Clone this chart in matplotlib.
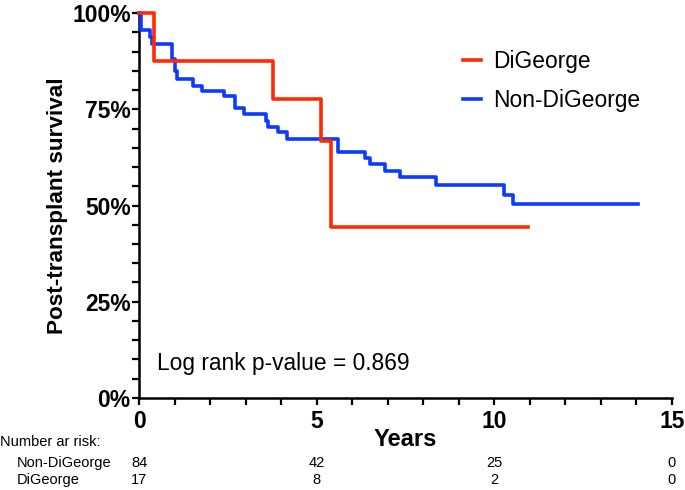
import matplotlib
matplotlib.use('Agg')
import matplotlib.pyplot as plt
from matplotlib.ticker import MultipleLocator, FuncFormatter
from matplotlib.transforms import blended_transform_factory

# Kaplan-Meier steps (years, % surviving)
dig_t = [0, 0.43, 3.78, 5.12, 5.40, 10.96]
dig_s = [100, 87.5, 77.8, 66.7, 44.4, 44.4]

non_t = [0, 0.06, 0.30, 0.36, 0.93, 1.00, 1.06, 1.53, 1.78, 2.40, 2.70, 2.94,
         3.56, 3.62, 3.92, 4.16, 5.60, 6.35, 6.50, 6.92, 7.35, 8.36, 10.27, 10.53, 14.05]
non_s = [100, 95.6, 93.8, 92.1, 88.2, 85.0, 82.9, 81.0, 79.8, 78.4, 75.3, 73.7,
         72.0, 70.5, 69.0, 67.3, 64.0, 62.4, 60.7, 59.1, 57.4, 55.4, 52.8, 50.4, 50.4]

risk_years = [0, 5, 10, 15]
risk_non = [84, 42, 25, 0]
risk_dig = [17, 8, 2, 0]

RED = '#ff2a00'
BLUE = '#0b3bff'

plt.rcParams['font.family'] = ['Liberation Sans', 'DejaVu Sans']

fig = plt.figure(figsize=(6.85, 4.9), dpi=100)
ax = fig.add_axes([0.203, 0.188, 0.778, 0.785])

ax.step(non_t, non_s, where='post', color=BLUE, lw=2.6, label='Non-DiGeorge',
        clip_on=False, zorder=3)
ax.step(dig_t, dig_s, where='post', color=RED, lw=2.6, label='DiGeorge',
        clip_on=False, zorder=4)

ax.set_xlim(0, 15)
ax.set_ylim(0, 100)
for s in ['top', 'right']:
    ax.spines[s].set_visible(False)
for s in ['left', 'bottom']:
    ax.spines[s].set_linewidth(1.8)

ax.xaxis.set_major_locator(MultipleLocator(5))
ax.xaxis.set_minor_locator(MultipleLocator(1))
ax.yaxis.set_major_locator(MultipleLocator(25))
ax.yaxis.set_minor_locator(MultipleLocator(5))
ax.yaxis.set_major_formatter(FuncFormatter(lambda v, p: f'{v:.0f}%'))
ax.tick_params(which='both', direction='out', length=5, width=1.6)
ax.tick_params(axis='y', pad=1)
ax.tick_params(axis='x', pad=4)

for lab in ax.get_yticklabels():
    lab.set_fontsize(16.5)
    lab.set_fontweight('bold')
for lab in ax.get_xticklabels():
    lab.set_fontsize(16.5)
    lab.set_fontweight('bold')

ax.set_ylabel('Post-transplant survival', fontsize=16.2, fontweight='bold', labelpad=3)
ax.set_xlabel('Years', fontsize=17, fontweight='bold', labelpad=-4)

handles, labels = ax.get_legend_handles_labels()
ax.legend(handles[::-1], labels[::-1], loc='upper left', bbox_to_anchor=(0.608, 0.905),
          frameon=False, fontsize=16.4, handlelength=0.8, handletextpad=0.5,
          labelspacing=0.72, borderpad=0, borderaxespad=0)

ax.text(0.033, 0.09, 'Log rank p-value = 0.869', transform=ax.transAxes,
        fontsize=16.4, va='center', ha='left')

# number at risk table
tr = blended_transform_factory(ax.transData, fig.transFigure)
fig.text(0.0, 1 - 442 / 490, 'Number ar risk:', fontsize=10.5, va='center', ha='left')
fig.text(17 / 685, 1 - 463 / 490, 'Non-DiGeorge', fontsize=10.5, va='center', ha='left')
fig.text(17 / 685, 1 - 480 / 490, 'DiGeorge', fontsize=10.5, va='center', ha='left')
for x, a, b in zip(risk_years, risk_non, risk_dig):
    ax.text(x, 1 - 463 / 490, str(a), transform=tr, fontsize=10.5,
            va='center', ha='center')
    ax.text(x, 1 - 480 / 490, str(b), transform=tr, fontsize=10.5,
            va='center', ha='center')

fig.savefig('out.png', dpi=100)
